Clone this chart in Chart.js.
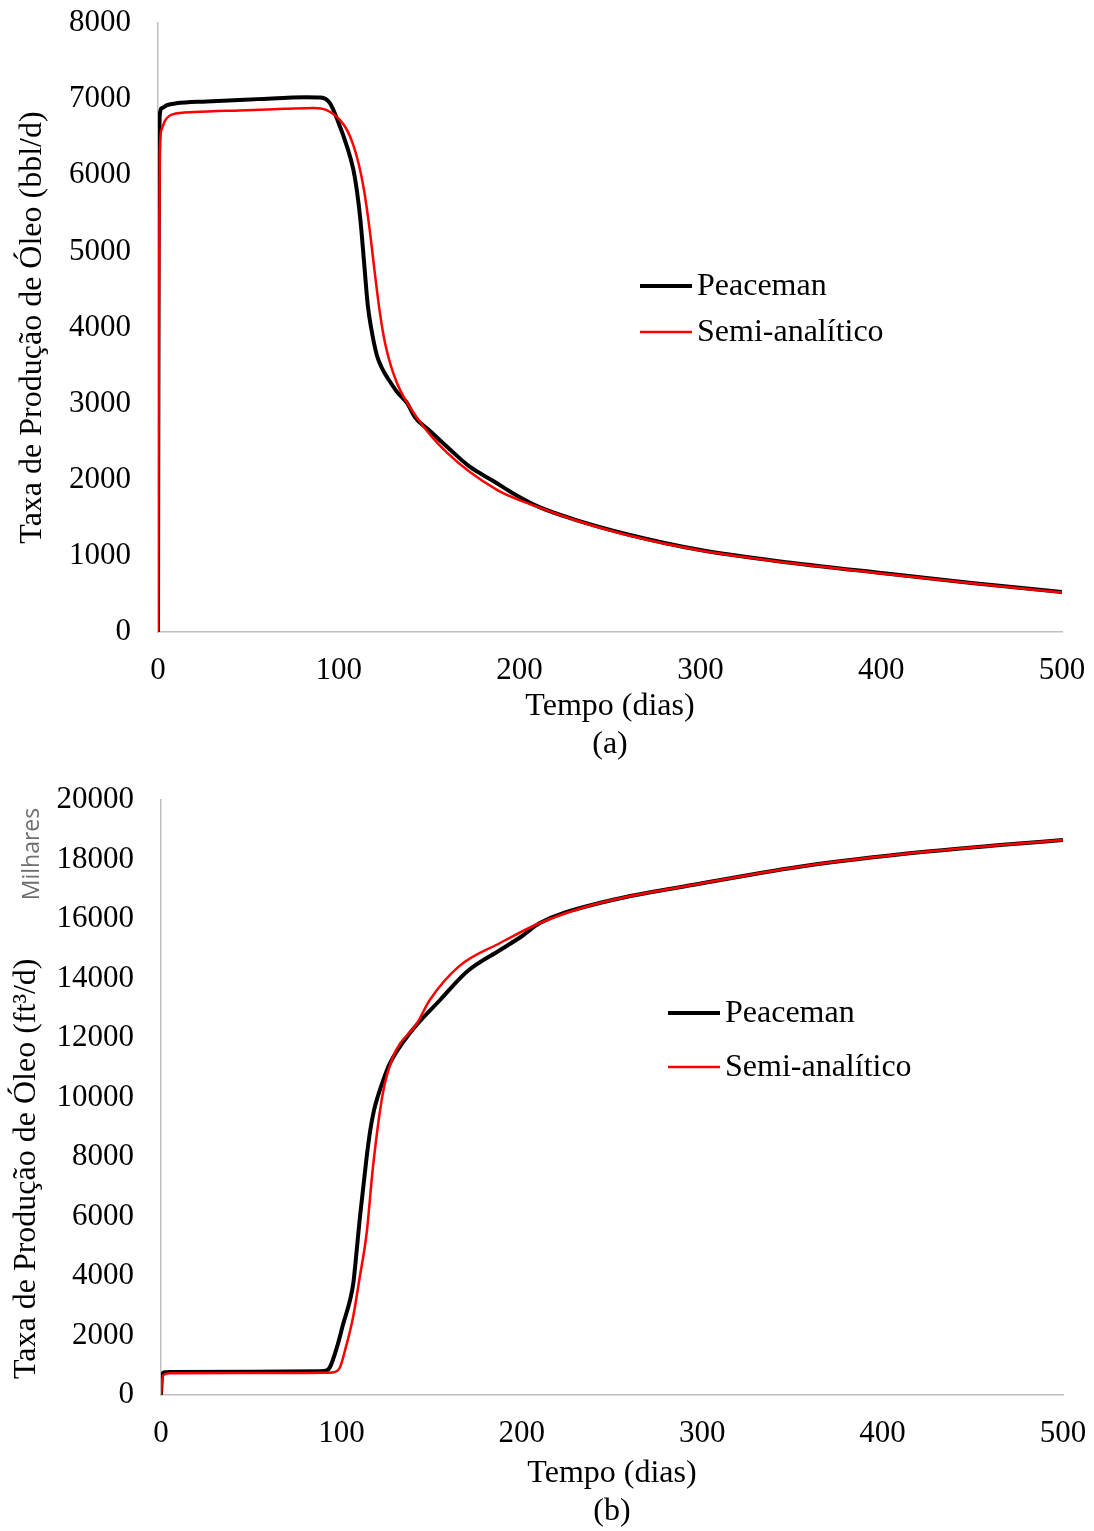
<!DOCTYPE html>
<html>
<head>
<meta charset="utf-8">
<script src="https://cdn.jsdelivr.net/npm/chart.js@4.4.1/dist/chart.umd.min.js"></script>
<style>
  html, body { margin: 0; padding: 0; background: #fff; }
  canvas { display: block; }
</style>
</head>
<body>
<canvas id="chartA" width="1094" height="765"></canvas>
<canvas id="chartB" width="1094" height="766"></canvas>
<script>
// (a) taxa de óleo, bbl/d
var tempoPeacemanA = [0, 0.3, 1, 2, 5, 10, 27, 55, 82, 90, 95, 100, 104.5, 108, 110, 112, 114, 116, 118, 121, 124, 128, 132, 137.7, 142, 150, 160, 172.6, 185, 196, 210, 230, 261, 300, 350, 400, 450, 500];
var peacemanA = [0, 4500, 6800, 6880, 6920, 6945, 6970, 7000, 7025, 7021, 6950, 6680, 6380, 6080, 5800, 5400, 4850, 4300, 3980, 3640, 3460, 3300, 3160, 3009, 2825, 2650, 2431, 2168, 1990, 1827, 1650, 1480, 1275, 1077, 910, 775, 645, 525];
var tempoSemiA = [0, 0.5, 1, 2, 4, 8, 20, 45, 70, 86, 93, 100.6, 104.5, 108, 111, 114, 117, 120, 123, 126, 132, 143, 160, 187.5, 210, 230, 261, 300, 350, 400, 450, 500];
var semiA = [0, 4000, 6300, 6600, 6720, 6800, 6830, 6852, 6872, 6885, 6860, 6728, 6597, 6400, 6150, 5800, 5300, 4700, 4150, 3750, 3280, 2825, 2352, 1866, 1643, 1475, 1265, 1070, 905, 770, 640, 520];

// (b) taxa de óleo, ft3/d (milhares)
var tempoPeacemanB = [0, 0.5, 1.5, 5, 50, 88, 92, 93.7, 97.5, 101.1, 104.8, 106.6, 108.5, 110.3, 114, 116, 118, 120, 123, 127, 138, 154.7, 170, 188, 200, 210, 243, 300, 354, 410, 465, 500];
var peacemanB = [0, 600, 760, 775, 785, 800, 830, 941, 1600, 2410, 3193, 3754, 4874, 5994, 8000, 8900, 9550, 10000, 10550, 11160, 12168, 13277, 14250, 14958, 15420, 15866, 16538, 17200, 17758, 18174, 18487, 18655];
var tempoSemiB = [0, 0.5, 1.5, 5, 50, 90, 95, 99, 102, 106.5, 110, 114, 117.5, 123, 128.6, 142, 149, 165, 188, 210, 243, 300, 354, 410, 465, 500];
var semiB = [0, 400, 680, 735, 740, 745, 760, 907, 1500, 2622, 3900, 5445, 7664, 10151, 11361, 12504, 13277, 14400, 15193, 15866, 16538, 17200, 17758, 18174, 18487, 18655];

var seriesNames = ['Peaceman', 'Semi-analítico'];
var seriesColors = ['#000000', '#ff0000'];

var SERIF = "'Liberation Serif', 'Times New Roman', serif";

function toXY(xs, ys) {
    return xs.map(function (x, i) { return {x: x, y: ys[i]}; });
}

// legenda desenhada dentro da área do gráfico
var innerLegend = {
    id: 'innerLegend',
    afterDraw: function (chart, args, opts) {
        var ctx = chart.ctx;
        ctx.save();
        ctx.font = '32px ' + SERIF;
        ctx.textBaseline = 'middle';
        ctx.textAlign = 'left';
        chart.data.datasets.forEach(function (ds, i) {
            var y = opts.y + i * opts.gap;
            ctx.strokeStyle = ds.borderColor;
            ctx.lineWidth = ds.borderWidth;
            ctx.beginPath();
            ctx.moveTo(opts.x, y);
            ctx.lineTo(opts.x + 52, y);
            ctx.stroke();
            ctx.fillStyle = '#000';
            ctx.fillText(ds.label, opts.x + 57, y + 1);
        });
        if (opts.unitText) {
            ctx.save();
            ctx.translate(opts.unitX, opts.unitY);
            ctx.rotate(-Math.PI / 2);
            ctx.font = "23px 'Open Sans', sans-serif";
            ctx.fillStyle = '#6f6f6f';
            ctx.textAlign = 'center';
            ctx.fillText(opts.unitText, 0, 0);
            ctx.restore();
        }
        ctx.restore();
    }
};

function makeConfig(d, ax) {
    return {
        type: 'line',
        data: {
            datasets: [{
                label: seriesNames[0],
                data: toXY(d.tp, d.p),
                borderColor: seriesColors[0],
                borderWidth: 4,
                order: 1
            }, {
                label: seriesNames[1],
                data: toXY(d.ts, d.s),
                borderColor: seriesColors[1],
                borderWidth: 2.5,
                order: 0
            }]
        },
        options: {
            responsive: false,
            animation: false,
            elements: { point: { radius: 0 }, line: { cubicInterpolationMode: 'monotone' } },
            layout: { padding: { left: 0, top: ax.top, right: ax.right, bottom: 0 } },
            scales: {
                x: {
                    type: 'linear',
                    min: 0,
                    max: 500,
                    grid: { display: false, drawTicks: false },
                    border: { display: true, color: '#bfbfbf', width: 1.5 },
                    ticks: { stepSize: 100, padding: 20, color: '#000', font: { family: SERIF, size: 31 },
                        callback: function (v) { return String(v); } },
                    title: { display: true, text: ['Tempo (dias)', ax.tag], color: '#000',
                        font: { family: SERIF, size: 32 }, padding: { top: 0, bottom: ax.titleBottom } },
                    afterFit: function (s) { s.height = ax.xHeight; s.paddingLeft = 0; s.paddingRight = 0; }
                },
                y: {
                    min: 0,
                    max: ax.ymax,
                    grid: { display: false, drawTicks: false },
                    border: { display: true, color: '#bfbfbf', width: 1.5 },
                    ticks: { stepSize: ax.ystep, padding: 27, color: '#000', font: { family: SERIF, size: 31 },
                        callback: function (v) { return String(v); } },
                    title: { display: true, text: ax.ytitle, align: ax.ytitleAlign, color: '#000',
                        font: { family: SERIF, size: 32 }, padding: { top: ax.ytitlePad, bottom: 0 } },
                    afterFit: function (s) { s.width = ax.yWidth; s.paddingTop = 0; s.paddingBottom = 0; }
                }
            },
            plugins: {
                legend: { display: false },
                tooltip: { enabled: false },
                innerLegend: ax.legend
            }
        },
        plugins: [innerLegend]
    };
}

var chartA = new Chart(document.getElementById('chartA'), makeConfig(
    { tp: tempoPeacemanA, p: peacemanA, ts: tempoSemiA, s: semiA },
    { top: 23, right: 32, xHeight: 133, yWidth: 158, ymax: 8000, ystep: 1000, tag: '(a)', titleBottom: 1,
      ytitle: 'Taxa de Produção de Óleo (bbl/d)', ytitleAlign: 'center', ytitlePad: 13,
      legend: { x: 640, y: 286, gap: 46 } }
));

var chartB = new Chart(document.getElementById('chartB'), makeConfig(
    { tp: tempoPeacemanB, p: peacemanB, ts: tempoSemiB, s: semiB },
    { top: 35, right: 31, xHeight: 136, yWidth: 161, ymax: 20000, ystep: 2000, tag: '(b)', titleBottom: 0,
      ytitle: '  Taxa de Produção de Óleo (ft³/d)', ytitleAlign: 'start', ytitlePad: 7,
      legend: { x: 668, y: 248, gap: 54, unitText: 'Milhares', unitX: 32, unitY: 89 } }
));
</script>
</body>
</html>
